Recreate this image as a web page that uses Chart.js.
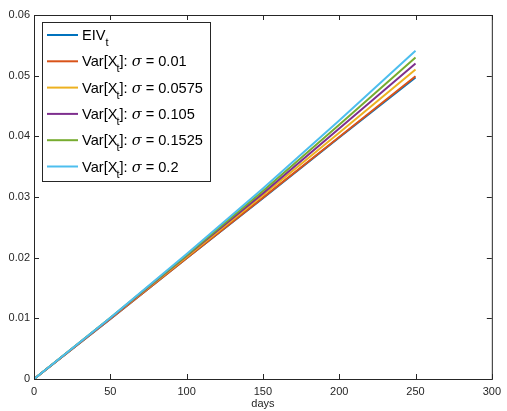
<!DOCTYPE html>
<html>
<head>
<meta charset="utf-8">
<script src="https://cdn.jsdelivr.net/npm/chart.js@4.4.1/dist/chart.umd.min.js"></script>
<style>
  html, body { margin: 0; padding: 0; background: #fff; }
  #wrap { width: 507px; height: 411px; }
</style>
</head>
<body>
<div id="wrap"><canvas id="eivChart" width="507" height="411"></canvas></div>
<script>
// days and curve values (EIV and variance for each sigma)
var days = [0, 50, 100, 150, 200, 250];
var eivVals = [0, 0.0099, 0.0199, 0.0298, 0.0398, 0.0497];
var sigmas = ['0.01', '0.0575', '0.105', '0.1525', '0.2'];
var varVals = [
  [0, 0.0099, 0.0199, 0.0299, 0.0399, 0.0499],
  [0, 0.0100, 0.0201, 0.0303, 0.0406, 0.0510],
  [0, 0.0100, 0.0203, 0.0306, 0.0413, 0.0520],
  [0, 0.0101, 0.0204, 0.0310, 0.0419, 0.0530],
  [0, 0.0101, 0.0206, 0.0314, 0.0426, 0.0541]
];
var colors = ['#0072BD', '#D95319', '#EDB120', '#7E2F8E', '#77AC30', '#4DBEEE'];
var xTicks = [0, 50, 100, 150, 200, 250, 300];
var yTicks = [0, 0.01, 0.02, 0.03, 0.04, 0.05, 0.06];

function toPoints(vals) {
  return days.map(function (d, i) { return { x: d, y: vals[i] }; });
}

var datasets = [{
  label: 'EIV',
  data: toPoints(eivVals),
  borderColor: colors[0],
  borderWidth: 2,
  pointRadius: 0,
  showLine: true,
  order: 6
}];
sigmas.forEach(function (s, i) {
  datasets.push({
    label: 'Var',
    sigma: s,
    data: toPoints(varVals[i]),
    borderColor: colors[i + 1],
    borderWidth: 2,
    pointRadius: 0,
    showLine: true,
    order: 5 - i   // later curves on top
  });
});

var axisColor = '#262626';
var fontFamily = '"Liberation Sans", Arial, Helvetica, sans-serif';

// box around the plot with inward ticks on all four sides
var boxAxes = {
  id: 'boxAxes',
  afterDatasetsDraw: function (chart) {
    var ctx = chart.ctx, a = chart.chartArea;
    var xs = chart.scales.x, ys = chart.scales.y;
    ctx.save();
    ctx.strokeStyle = axisColor;
    ctx.lineWidth = 1;
    ctx.strokeRect(a.left + 0.5, a.top + 0.5, a.right - a.left, a.bottom - a.top);
    ctx.beginPath();
    xTicks.forEach(function (v) {
      var px = Math.round(xs.getPixelForValue(v)) + 0.5;
      ctx.moveTo(px, a.bottom); ctx.lineTo(px, a.bottom - 5);
      ctx.moveTo(px, a.top); ctx.lineTo(px, a.top + 5);
    });
    yTicks.forEach(function (v) {
      var py = Math.round(ys.getPixelForValue(v)) + 0.5;
      ctx.moveTo(a.left, py); ctx.lineTo(a.left + 5, py);
      ctx.moveTo(a.right, py); ctx.lineTo(a.right - 5, py);
    });
    ctx.stroke();
    ctx.restore();
  }
};

// legend box with subscripts, drawn like the MATLAB one
var texLegend = {
  id: 'texLegend',
  afterDraw: function (chart) {
    var ctx = chart.ctx;
    var bx = 42.5, by = 22.5, bw = 168, bh = 159;
    var big = '14.6px ' + fontFamily, small = '11px ' + fontFamily;
    ctx.save();
    ctx.fillStyle = '#fff';
    ctx.fillRect(bx, by, bw, bh);
    ctx.strokeStyle = axisColor;
    ctx.lineWidth = 1;
    ctx.strokeRect(bx, by, bw, bh);
    ctx.textBaseline = 'alphabetic';
    chart.data.datasets.forEach(function (ds, i) {
      var y = 35 + i * 26.3;
      ctx.strokeStyle = ds.borderColor;
      ctx.lineWidth = 2;
      ctx.beginPath();
      ctx.moveTo(47, y); ctx.lineTo(78, y);
      ctx.stroke();
      ctx.fillStyle = '#000';
      var x = 82, base = y + 5;
      ctx.font = big;
      if (!ds.sigma) {
        ctx.fillText('EIV', x, base);
        x += ctx.measureText('EIV').width;
        ctx.font = small;
        ctx.fillText('t', x, base + 6);
        return;
      }
      ctx.fillText('Var[X', x, base);
      x += ctx.measureText('Var[X').width;
      ctx.font = small;
      ctx.fillText('t', x - 1, base + 6);
      x += ctx.measureText('t').width - 1;
      ctx.font = big;
      ctx.fillText(']: ', x, base);
      x += ctx.measureText(']: ').width;
      ctx.font = 'italic 14.6px "DejaVu Serif", "Liberation Serif", serif';
      ctx.fillText('\u03c3', x, base);
      x += ctx.measureText('\u03c3').width;
      ctx.font = big;
      ctx.fillText(' = ' + ds.sigma, x, base);
    });
    ctx.restore();
  }
};

var ctx = document.getElementById('eivChart').getContext('2d');
var myChart = new Chart(ctx, {
  type: 'scatter',
  data: { datasets: datasets },
  options: {
    responsive: false,
    animation: false,
    layout: { padding: { left: 0, top: 15, right: 10, bottom: 0 } },
    plugins: {
      legend: { display: false },
      tooltip: { enabled: false }
    },
    scales: {
      x: {
        type: 'linear',
        min: 0, max: 300,
        afterBuildTicks: function (s) { s.ticks = xTicks.map(function (v) { return { value: v }; }); },
        afterFit: function (s) { s.height = 32; },
        grid: { display: false, drawTicks: false },
        border: { display: false },
        ticks: { color: axisColor, padding: 6, font: { family: fontFamily, size: 11 }, maxRotation: 0 },
        title: { display: true, text: 'days', color: axisColor, padding: { top: 2, bottom: 0 }, font: { family: fontFamily, size: 11 } }
      },
      y: {
        type: 'linear',
        min: 0, max: 0.06,
        afterBuildTicks: function (s) { s.ticks = yTicks.map(function (v) { return { value: v }; }); },
        afterFit: function (s) { s.width = 34; },
        grid: { display: false, drawTicks: false },
        border: { display: false },
        ticks: {
          color: axisColor, padding: 4,
          font: { family: fontFamily, size: 11 },
          callback: function (v) { return String(Math.round(v * 100) / 100); }
        }
      }
    }
  },
  plugins: [boxAxes, texLegend]
});
</script>
</body>
</html>
